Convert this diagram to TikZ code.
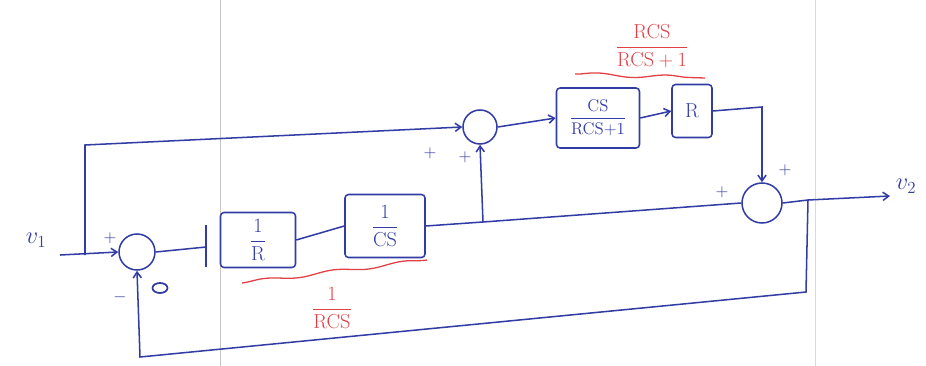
\documentclass[tikz,border=0pt]{standalone}
\usepackage{amsmath}
\usetikzlibrary{arrows.meta,decorations.pathmorphing,shapes.geometric}
\definecolor{pen}{RGB}{50,60,165}
\definecolor{redpen}{RGB}{225,65,70}
\begin{document}
\begin{tikzpicture}[x=0.03cm,y=-0.03cm,line width=1.3pt,draw=pen,text=pen,
  sumj/.style={circle,draw=pen,line width=1.3pt,inner sep=0pt},
  blk/.style={rectangle,draw=pen,line width=1.3pt,rounded corners=3pt,font=\LARGE},
  arr/.style={-{Straight Barb[length=5pt,width=7pt]}},
  sign/.style={font=\Large,text=pen},
  redtxt/.style={font=\LARGE,text=redpen},
  wavy/.style={draw=redpen,line width=1.1pt,decorate,decoration={snake,amplitude=1.5pt,segment length=60pt}}]
\useasboundingbox (0,0) rectangle (926,366);
\fill[white] (0,0) rectangle (926,366);
% paper lines
\draw[gray!45,line width=0.8pt] (220,0) -- (220,366);
\draw[gray!30,line width=0.8pt] (815,0) -- (815,366);
% summing junctions
\node[sumj,minimum size=1.08cm] (s1) at (137,252) {};
\node[sumj,minimum size=1.02cm] (s2) at (480,127) {};
\node[sumj,minimum size=1.2cm] (s3) at (762,203) {};
% blocks
\node[blk,minimum width=2.25cm,minimum height=1.65cm] (b1) at (258,240) {$\dfrac{1}{\mathrm{R}}$};
\node[blk,minimum width=2.4cm,minimum height=1.89cm] (b2) at (385,226) {$\dfrac{1}{\mathrm{CS}}$};
\node[blk,minimum width=2.49cm,minimum height=1.8cm,font=\Large] (b3) at (598,118) {$\dfrac{\mathrm{CS}}{\mathrm{RCS{+}1}}$};
\node[blk,minimum width=1.2cm,minimum height=1.59cm] (b4) at (692,111) {$\mathrm{R}$};
% coordinates
\coordinate (in) at (60,255);
\coordinate (br) at (85,255);
\coordinate (tl) at (85,145);
\coordinate (tick) at (206,247);
\coordinate (tickt) at (206,225);
\coordinate (tickb) at (206,267);
\coordinate (j) at (483,222);
\coordinate (rc) at (762,107);
\coordinate (j2) at (808,200);
\coordinate (out) at (890,196);
\coordinate (fb1) at (806,292);
\coordinate (fb2) at (140,357);
% connectors
\draw[arr] (in) -- (s1.west);
\draw[arr] (br) -- (tl) -- (s2.west);
\draw (s1.east) -- (tick);
\draw (tickt) -- (tickb);
\draw (b1.east) -- (b2.west);
\draw (b2.east) -- (j);
\draw[arr] (j) -- (s2.south);
\draw (j) -- (s3.west);
\draw[arr] (s2.east) -- (b3.west);
\draw[arr] (b3.east) -- (b4.west);
\draw[arr] (b4.east) -- (rc) -- (s3.north);
\draw[arr] (s3.east) -- (j2) -- (out);
\draw[arr] (j2) -- (fb1) -- (fb2) -- (s1.south);
% io labels
\node[font=\huge,text=pen] (v1) at (36,240) {$v_{1}$};
\node[font=\huge,text=pen] (v2) at (906,186) {$v_{2}$};
% signs
\node[sign] (p1) at (110,238) {$+$};
\node[sign] (m1) at (120,297) {$-$};
\node[draw=pen,ellipse,inner sep=0pt,minimum width=0.45cm,minimum height=0.3cm,line width=1.5pt] (x1) at (160,288) {};
\node[sign] (p2) at (430,153) {$+$};
\node[sign] (p3) at (465,157) {$+$};
\node[sign] (p4) at (722,192) {$+$};
\node[sign] (p5) at (785,170) {$+$};
% red annotations
\node[redtxt] (rt) at (652,46) {$\dfrac{\mathrm{RCS}}{\mathrm{RCS+1}}$};
\coordinate (w1a) at (575,74);
\coordinate (w1b) at (705,78);
\draw[wavy] (w1a) -- (w1b);
\coordinate (w2a) at (242,283);
\coordinate (w2b) at (427,260);
\draw[wavy] (w2a) -- (w2b);
\node[redtxt] (rb) at (332,308) {$\dfrac{1}{\mathrm{RCS}}$};
\end{tikzpicture}
\end{document}
